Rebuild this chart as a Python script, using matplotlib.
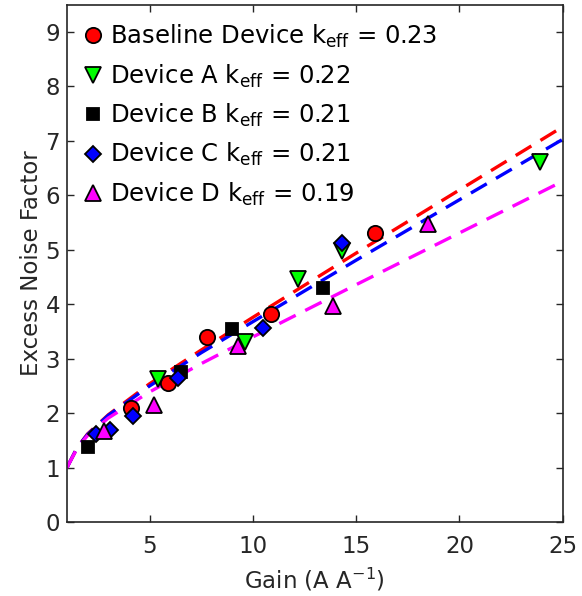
import numpy as np
import matplotlib
matplotlib.use("Agg")
import matplotlib.pyplot as plt

# measured points (gain, excess noise factor)
base_gain = [4.1, 5.9, 7.8, 10.9, 15.9]
base_F = [2.10, 2.55, 3.40, 3.83, 5.30]

a_gain = [5.4, 9.6, 12.2, 14.3, 23.9]
a_F = [2.62, 3.30, 4.46, 4.97, 6.61]

b_gain = [2.0, 6.5, 9.0, 13.4]
b_F = [1.37, 2.75, 3.55, 4.29]

c_gain = [2.4, 3.1, 4.2, 6.4, 10.5, 14.3]
c_F = [1.62, 1.69, 1.95, 2.65, 3.57, 5.12]

d_gain = [2.8, 5.2, 9.3, 13.9, 18.5]
d_F = [1.67, 2.15, 3.23, 3.96, 5.47]

# dashed fit curves
fit_gain = [1, 1.5, 2, 3, 5, 7.5, 10, 15, 20, 25]
fit_red = [1.00, 1.37, 1.62, 1.97, 2.54, 3.16, 3.76, 4.94, 6.10, 7.26]
fit_blue = [1.00, 1.37, 1.61, 1.96, 2.50, 3.11, 3.68, 4.81, 5.92, 7.03]
fit_mag = [1.00, 1.36, 1.59, 1.91, 2.39, 2.91, 3.40, 4.36, 5.31, 6.26]

labels = [r"Baseline Device k$_{\mathregular{eff}}$ = 0.23",
          r"Device A k$_{\mathregular{eff}}$ = 0.22",
          r"Device B k$_{\mathregular{eff}}$ = 0.21",
          r"Device C k$_{\mathregular{eff}}$ = 0.21",
          r"Device D k$_{\mathregular{eff}}$ = 0.19"]

plt.rcParams['font.family'] = 'DejaVu Sans'
plt.rcParams['mathtext.fontset'] = 'dejavusans'
plt.rcParams['mathtext.default'] = 'regular'
txt = '#262626'

fig = plt.figure(figsize=(5.82, 5.96), dpi=100)
ax = fig.add_axes([0.115, 0.124, 0.852, 0.868])

dash = (5.5, 3.2)
ax.plot(fit_gain, fit_red, color='red', lw=2.4, dashes=dash, zorder=2)
ax.plot(fit_gain, fit_blue, color='blue', lw=2.4, dashes=dash, zorder=2)
ax.plot(fit_gain, fit_mag, color='magenta', lw=2.4, dashes=dash, zorder=2)

ms = 11
kw = dict(linestyle='none', markeredgecolor='black', markeredgewidth=1.3, zorder=3)
ax.plot(base_gain, base_F, marker='o', color='red', ms=ms, label=labels[0], **kw)
ax.plot(a_gain, a_F, marker='v', color='#00ff00', ms=ms + 1, label=labels[1], **kw)
ax.plot(b_gain, b_F, marker='s', color='black', ms=ms - 2, label=labels[2], **kw)
ax.plot(c_gain, c_F, marker='D', color='blue', ms=ms - 2.5, label=labels[3], **kw)
ax.plot(d_gain, d_F, marker='^', color='magenta', ms=ms + 1, label=labels[4], **kw)

ax.set_xlim(1, 25)
ax.set_ylim(0, 9.5)
ax.set_xticks([5, 10, 15, 20, 25])
ax.set_yticks(range(10))
ax.tick_params(direction='in', top=True, right=True, labelsize=16.5,
               colors=txt, length=5, width=1)
ax.tick_params(axis='x', pad=9)
ax.tick_params(axis='y', pad=5)
for s in ax.spines.values():
    s.set_color(txt)
    s.set_linewidth(1.2)

ax.set_xlabel(r"Gain (A A$^{-1}$)", fontsize=16.5, color=txt, labelpad=6)
ax.set_ylabel("Excess Noise Factor", fontsize=16.5, color=txt, labelpad=2)

leg = ax.legend(loc='upper left', bbox_to_anchor=(-0.012, 1.0), frameon=False,
                fontsize=17.5, handletextpad=0.15, labelspacing=0.5,
                handlelength=1.1, borderaxespad=0.45, borderpad=0.3)
for t in leg.get_texts():
    t.set_color('black')

fig.savefig("out.png", dpi=100)
